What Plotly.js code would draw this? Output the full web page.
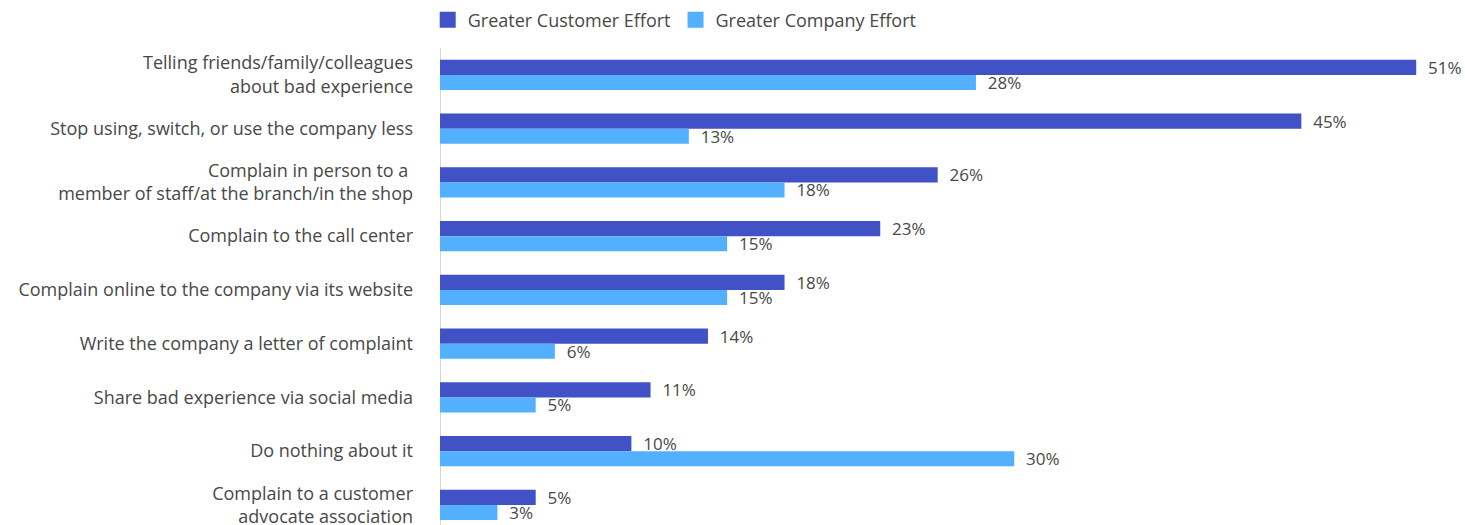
<!DOCTYPE html>
<html>
<head>
<meta charset="utf-8">
<script src="https://cdn.plot.ly/plotly-3.0.1.min.js"></script>
<style>html,body{margin:0;padding:0;background:#fff;}#chart{width:1465px;height:525px;}</style>
</head>
<body>
<div id="chart"></div>
<script>
const categories = [
  "Telling friends/family/colleagues<br>about bad experience",
  "Stop using, switch, or use the company less",
  "Complain in person to a <br>member of staff/at the branch/in the shop",
  "Complain to the call center",
  "Complain online to the company via its website",
  "Write the company a letter of complaint",
  "Share bad experience via social media",
  "Do nothing about it",
  "Complain to a customer<br>advocate association"
];
const customerEffort = [51, 45, 26, 23, 18, 14, 11, 10, 5];
const companyEffort = [28, 13, 18, 15, 15, 6, 5, 30, 3];
const seriesNames = ["Greater Customer Effort", "Greater Company Effort"];
const seriesColors = ["#4151C6", "#52B0FE"];

const FONT = "'Open Sans', sans-serif";
const TEXTCOLOR = "#484848";
const labelFont = {family: FONT, size: 17, color: TEXTCOLOR};

const traces = [
  {
    type: "bar", orientation: "h", name: seriesNames[0], showlegend: false,
    y: categories, x: customerEffort,
    marker: {color: seriesColors[0]},
    texttemplate: "\u00a0\u00a0%{x}%", textposition: "outside",
    constraintext: "none", cliponaxis: false,
    textfont: labelFont, hoverinfo: "skip"
  },
  {
    type: "bar", orientation: "h", name: seriesNames[1], showlegend: false,
    y: categories, x: companyEffort,
    marker: {color: seriesColors[1]},
    texttemplate: "\u00a0\u00a0%{x}%", textposition: "outside",
    constraintext: "none", cliponaxis: false,
    textfont: labelFont, hoverinfo: "skip"
  },
  // legend entries with larger square swatches
  {
    type: "scatter", mode: "markers", name: seriesNames[0],
    x: [null], y: [null], showlegend: true, hoverinfo: "skip",
    marker: {symbol: "square", size: 16, color: seriesColors[0]}
  },
  {
    type: "scatter", mode: "markers", name: seriesNames[1],
    x: [null], y: [null], showlegend: true, hoverinfo: "skip",
    marker: {symbol: "square", size: 16, color: seriesColors[1]}
  }
];

const layout = {
  width: 1465, height: 525,
  margin: {l: 440, r: 0, t: 48, b: 0, pad: 0},
  paper_bgcolor: "#fff", plot_bgcolor: "#fff",
  barmode: "group", bargap: 0.44, bargroupgap: 0,
  font: {family: FONT, size: 18, color: TEXTCOLOR},
  showlegend: true,
  legend: {
    orientation: "h", x: -0.012, xanchor: "left", y: 1.0587, yanchor: "middle",
    font: {family: FONT, size: 18, color: TEXTCOLOR},
    traceorder: "normal", itemclick: false, itemdoubleclick: false
  },
  xaxis: {
    range: [0, 53.55], showgrid: false, showticklabels: false, ticks: "",
    zeroline: true, zerolinecolor: "#d4d4d4", zerolinewidth: 1, fixedrange: true
  },
  yaxis: {
    type: "category", categoryarray: categories, categoryorder: "array",
    range: [8.374, -0.5], autorange: false,
    showgrid: false, zeroline: false, ticks: "", ticklabelstandoff: 26,
    tickfont: {family: FONT, size: 18, color: TEXTCOLOR}, fixedrange: true
  }
};

Plotly.newPlot("chart", traces, layout, {displayModeBar: false, staticPlot: true});
</script>
</body>
</html>
